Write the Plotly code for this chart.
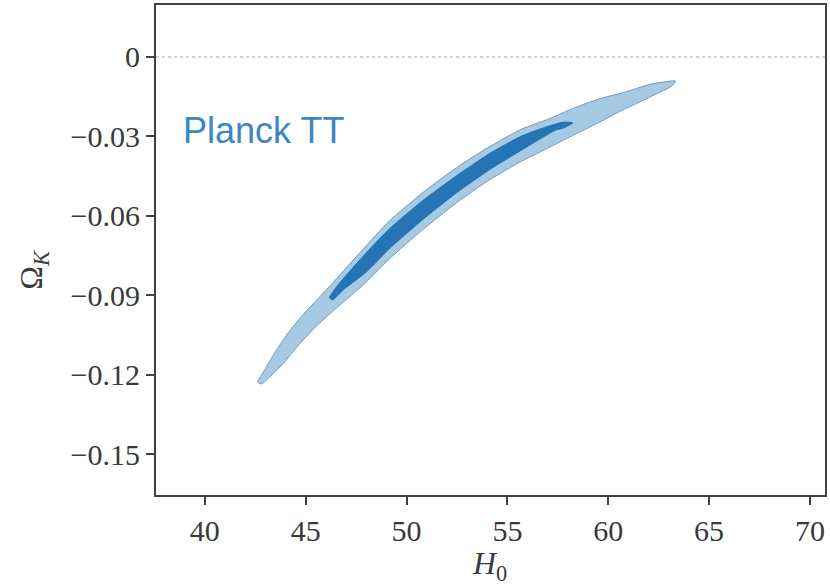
import plotly.graph_objects as go

# 95% contour (outer), traced along upper edge then lower edge
outer_h0 = [42.620, 42.966, 43.460, 44.202, 44.943, 45.685, 46.426, 47.810, 49.145, 50.776, 52.457,
            54.088, 55.719, 57.054, 58.290, 59.526, 60.860, 62.145, 63.332,
            63.134, 61.849, 60.514, 59.180, 58.191, 56.906, 55.719, 54.088, 52.457, 50.776, 49.145,
            48.008, 46.921, 46.179, 45.536, 44.696, 43.905, 43.213, 42.818, 42.620]
outer_ok = [-0.1228, -0.1182, -0.1118, -0.1035, -0.0967, -0.0907, -0.0846, -0.0729, -0.0620, -0.0514, -0.0419,
            -0.0340, -0.0272, -0.0234, -0.0193, -0.0159, -0.0132, -0.0102, -0.0091,
            -0.0110, -0.0159, -0.0208, -0.0261, -0.0298, -0.0348, -0.0393, -0.0465, -0.0552, -0.0654, -0.0763,
            -0.0850, -0.0922, -0.0971, -0.1016, -0.1084, -0.1156, -0.1209, -0.1235, -0.1228]

# 68% contour (inner)
inner_h0 = [46.18, 46.52, 47.81, 49.14, 50.78, 52.46, 54.09, 55.72, 57.05, 57.80, 58.24,
            57.80, 57.40, 55.72, 54.09, 52.46, 50.78, 49.14, 48.01, 46.92, 46.33, 46.18]
inner_ok = [-0.0910, -0.0869, -0.0756, -0.0650, -0.0544, -0.0450, -0.0366, -0.0298, -0.0261, -0.0246, -0.0249,
            -0.0268, -0.0276, -0.0351, -0.0427, -0.0514, -0.0616, -0.0725, -0.0812, -0.0876, -0.0918, -0.0910]

x_ticks = [40, 45, 50, 55, 60, 65, 70]
y_ticks = [0, -0.03, -0.06, -0.09, -0.12, -0.15]
y_tick_text = ["0", "\u22120.03", "\u22120.06", "\u22120.09", "\u22120.12", "\u22120.15"]

fig = go.Figure()
fig.add_trace(go.Scatter(x=outer_h0, y=outer_ok, mode="lines", fill="toself",
                         fillcolor="rgb(166,201,228)", line=dict(color="rgb(110,155,195)", width=1, shape="spline", smoothing=0.6),
                         hoverinfo="skip", showlegend=False))
fig.add_trace(go.Scatter(x=inner_h0, y=inner_ok, mode="lines", fill="toself",
                         fillcolor="rgb(36,116,182)", line=dict(color="rgb(36,116,182)", width=1, shape="spline", smoothing=0.6),
                         hoverinfo="skip", showlegend=False))

fig.add_hline(y=0, line=dict(color="rgb(170,170,170)", width=1, dash="dot"))

tickfont = dict(family="Liberation Serif", size=30, color="#3a3a3a")
fig.update_xaxes(range=[37.578, 70.746], tickvals=x_ticks, ticktext=[str(v) for v in x_ticks],
                 showgrid=False, zeroline=False, showline=True, mirror=True,
                 linecolor="#404040", linewidth=2, ticks="outside", ticklen=8, tickwidth=2,
                 tickcolor="#404040", tickfont=tickfont)
fig.update_yaxes(range=[-0.16547, 0.01964], tickvals=y_ticks, ticktext=y_tick_text,
                 showgrid=False, zeroline=False, showline=True, mirror=True,
                 linecolor="#404040", linewidth=2, ticks="outside", ticklen=8, tickwidth=2,
                 tickcolor="#404040", tickfont=tickfont)

fig.add_annotation(x=38.81, y=-0.0276, xref="x", yref="y", text="Planck TT", showarrow=False,
                   xanchor="left", yanchor="middle",
                   font=dict(family="Liberation Sans", size=36, color="rgb(61,133,198)"))
fig.add_annotation(x=-0.183, y=0.459, xref="paper", yref="paper", text="\u03a9<sub><i>K</i></sub>",
                   showarrow=False, textangle=-90, xanchor="center", yanchor="middle",
                   font=dict(family="Liberation Serif", size=32, color="#3a3a3a"))
fig.add_annotation(x=0.498, y=-0.143, xref="paper", yref="paper", text="<i>H</i><sub>0</sub>",
                   showarrow=False, xanchor="center", yanchor="middle",
                   font=dict(family="Liberation Serif", size=32, color="#3a3a3a"))

fig.update_layout(width=830, height=587, margin=dict(l=156, r=3, t=5, b=92),
                  plot_bgcolor="white", paper_bgcolor="white")

fig.write_html("out.html")
